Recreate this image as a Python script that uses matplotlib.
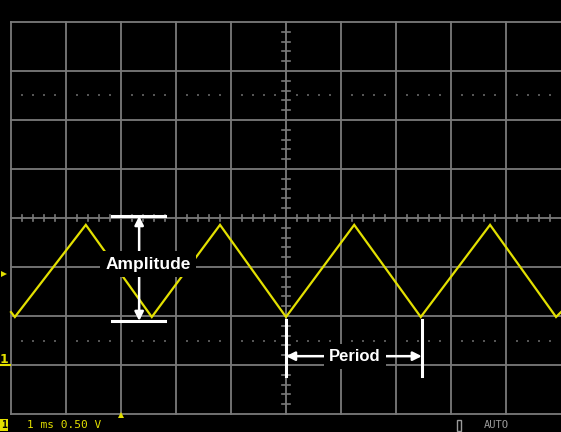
import numpy as np
import matplotlib.pyplot as plt
from matplotlib.patches import Rectangle

# screen is measured in divisions, centre of graticule at (0, 0)
DIV_X = np.arange(-5, 5)          # vertical graticule lines
DIV_Y = np.arange(-4, 5)          # horizontal graticule lines

# triangle wave vertices (divisions)
wave_x = [-5.0, -4.93, -3.64, -2.44, -1.20, 0.0, 1.24, 2.45, 3.71, 4.91, 5.0]
wave_y = [-1.92, -2.02, -0.14, -2.02, -0.14, -2.02, -0.14, -2.02, -0.14, -2.02, -1.92]

amp_top, amp_bot = 0.04, -2.10
period_start, period_end = 0.0, 2.47

GRID = "#7a7a7a"
YEL = "#e3e000"

fig = plt.figure(figsize=(5.61, 4.32), dpi=100, facecolor="black")
ax = fig.add_axes([0, 0, 1, 1])
ax.set_facecolor("black")
ax.set_xlim(-286 / 55, 275 / 55)
ax.set_ylim(-214 / 49, 218 / 49)
ax.axis("off")

# graticule
for x in DIV_X:
    ax.plot([x, x], [-4, 4], color=GRID, lw=1.3, zorder=1)
for y in DIV_Y:
    ax.plot([-5, 5.2], [y, y], color=GRID, lw=1.3, zorder=1)

# dotted lines at +/-2.5 div
fifths = np.array([v + k / 5 for v in range(-5, 5) for k in range(1, 5)])
for y in (2.5, -2.5):
    ax.scatter(fifths, np.full_like(fifths, y), s=1.2, color="#555555",
               marker="s", lw=0, zorder=1)

# centre axis ticks
for x in fifths:
    ax.plot([x, x], [-0.06, 0.06], color=GRID, lw=1.2, zorder=1)
yf = np.array([v + k / 5 for v in range(-4, 4) for k in range(1, 5)])
for y in yf:
    ax.plot([-0.075, 0.075], [y, y], color=GRID, lw=1.2, zorder=1)

# waveform
ax.plot(wave_x, wave_y, color=YEL, lw=1.6, zorder=3, solid_joinstyle="miter")

# amplitude annotation
W = "white"
for y in (amp_top, amp_bot):
    ax.plot([-3.16, -2.2], [y, y], color=W, lw=2.2, zorder=4)
ax.annotate("", xy=(-2.67, amp_top), xytext=(-2.67, amp_bot),
            arrowprops=dict(arrowstyle="<|-|>", color=W, lw=1.8,
                            mutation_scale=13, shrinkA=0, shrinkB=0), zorder=4)
ax.text(-2.51, -0.94, "Amplitude", color=W, fontsize=12.5, fontweight="bold",
        family="Liberation Sans", ha="center", va="center", zorder=5,
        bbox=dict(boxstyle="square,pad=0.3", fc="black", ec="none"))

# period annotation
for x in (period_start, period_end):
    ax.plot([x, x], [-2.08, -3.22], color=W, lw=2.2, zorder=4)
ax.annotate("", xy=(period_start, -2.82), xytext=(period_end, -2.82),
            arrowprops=dict(arrowstyle="<|-|>", color=W, lw=1.8,
                            mutation_scale=13, shrinkA=0, shrinkB=0), zorder=4)
ax.text(1.25, -2.82, "Period", color=W, fontsize=12, fontweight="bold",
        family="Liberation Sans", ha="center", va="center", zorder=5,
        bbox=dict(boxstyle="square,pad=0.3", fc="black", ec="none"))

# status line and markers
ax.text(-4.71, -4.22, "1 ms 0.50 V", color=YEL, fontsize=8,
        family="DejaVu Sans Mono", ha="left", va="center")
ax.text(-5.13, -4.22, "1", color="black", fontsize=7, fontweight="bold",
        family="DejaVu Sans Mono", ha="center", va="center",
        bbox=dict(boxstyle="square,pad=0.1", fc=YEL, ec="none"))
ax.text(3.6, -4.22, "AUTO", color="#9a9a9a", fontsize=7.5,
        family="DejaVu Sans Mono", ha="left", va="center")
ax.add_patch(Rectangle((3.1, -4.35), 0.09, 0.22, fill=False, ec="#9a9a9a", lw=1))
ax.plot([-3.0], [-4.02], marker="^", color=YEL, ms=4, mew=0)
ax.plot([-5.13], [-1.14], marker=">", color=YEL, ms=5, mew=0)
ax.text(-5.12, -2.88, "1", color=YEL, fontsize=9, fontweight="bold",
        family="DejaVu Sans", ha="center", va="center")
ax.plot([-5.2, -5.02], [-3.0, -3.0], color=YEL, lw=1.5)

fig.savefig("out.png", dpi=100, facecolor="black")
